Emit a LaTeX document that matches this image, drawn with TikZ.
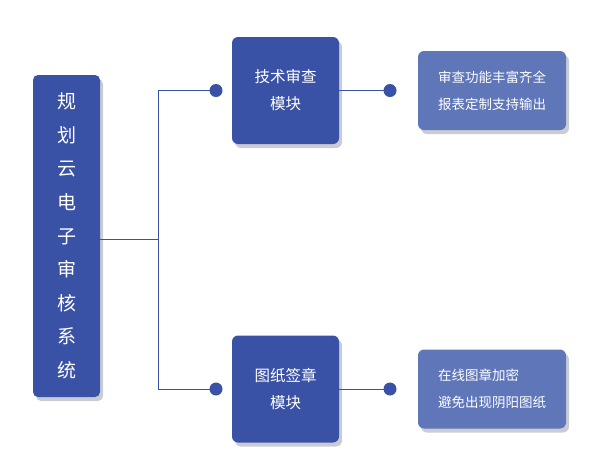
\documentclass[tikz,border=0pt]{standalone}
\usepackage{fontspec}
\setmainfont{Noto Sans CJK SC}
\usepackage{xcolor}
\usepackage{tikz}
\usetikzlibrary{calc,positioning,shadows}
\definecolor{auditBlue}{HTML}{3A52A5}
\definecolor{auditSoft}{HTML}{5F76B9}
\definecolor{auditShade}{HTML}{8A8F9E}

\begin{document}
\begin{tikzpicture}[x=1pt,y=-1pt]
  \tikzset{box/.style={fill=auditBlue,text=white,rounded corners=6pt,inner sep=0pt,
      drop shadow={shadow xshift=3pt,shadow yshift=-4pt,fill=auditShade,opacity=.45}},
    module/.style={box,minimum width=107pt,minimum height=107pt,align=center,font=\fontsize{15.5}{27}\selectfont},
    note/.style={box,fill=auditSoft,minimum width=148pt,minimum height=79pt,align=left,font=\fontsize{13.5}{27}\selectfont},
    dot/.style={circle,fill=auditBlue,inner sep=0pt,minimum size=13pt},
    link/.style={draw=auditBlue,line width=1pt}}
  \useasboundingbox (0,0) rectangle (592,459);
  \node[box,minimum width=67pt,minimum height=322pt,align=center,rounded corners=5pt,
    font=\fontsize{19}{33.6}\selectfont] (sys) at (66.5,236) {规\\划\\云\\电\\子\\审\\核\\系\\统};
  \node[module] (tech) at (285.5,90.5) {技术审查\\模块};
  \node[module] (sign) at (285.5,389) {图纸签章\\模块};
  \node[note] (techNote) at (492,90.5) {审查功能丰富齐全\\报表定制支持输出};
  \node[note] (signNote) at (492,389) {在线图章加密\\避免出现阴阳图纸};
  \coordinate (trunk) at (158,239);
  \node[dot] (techIn) at (216,90.5) {};
  \node[dot] (signIn) at (216,389) {};
  \node[dot] (techOut) at (390,90.5) {};
  \node[dot] (signOut) at (390,389) {};
  % trunk and branches
  \draw[link] (sys.east |- trunk) -- (trunk);
  \draw[link] (techIn.center) -| (trunk);
  \draw[link] (signIn.center) -| (trunk);
  \draw[link] (tech.east) -- (techOut.center);
  \draw[link] (sign.east) -- (signOut.center);
\end{tikzpicture}
\end{document}
